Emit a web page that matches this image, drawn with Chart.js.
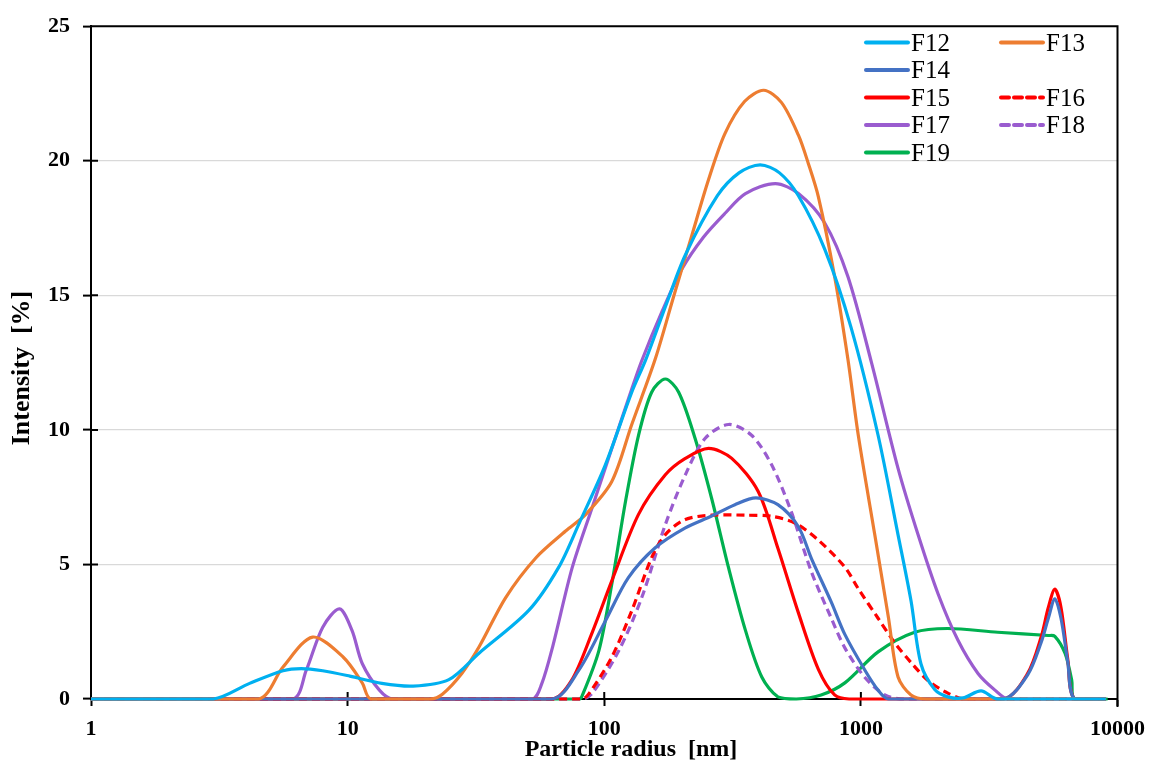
<!DOCTYPE html>
<html><head><meta charset="utf-8">
<script src="https://cdn.jsdelivr.net/npm/chart.js@4/dist/chart.umd.min.js"></script>
<style>html,body{margin:0;padding:0;background:#fff;}#wrap{position:relative;width:1155px;height:760px;}</style>
</head><body><div id="wrap"><canvas id="c" width="1155" height="760"></canvas></div>
<script>
// ---- data (particle radius in nm, intensity in %) ----
const F12_r = [1, 3.0, 4.15, 5.6, 6.6, 8.0, 10.2, 13.6, 18, 24.8, 32.5, 50.9, 66.5, 79.6, 101, 128, 145, 175, 207, 276, 335, 405, 482, 571, 724, 916, 1167, 1396, 1568, 1715, 1940, 2180, 2500, 2940, 3400, 9000];
const F12_y = [0, 0, 0.58, 1.05, 1.13, 1.05, 0.85, 0.58, 0.48, 0.72, 1.7, 3.3, 4.9, 6.5, 8.7, 11.4, 12.6, 14.7, 16.5, 18.7, 19.55, 19.85, 19.55, 18.7, 16.7, 13.8, 9.8, 6.1, 3.65, 1.3, 0.35, 0.08, 0.04, 0.3, 0, 0];

const F13_r = [1, 4.5, 5.6, 7.3, 9.6, 11.4, 12.3, 21, 23.4, 27.9, 32.5, 41.3, 54.2, 70.7, 84.5, 107, 128, 158, 187, 219, 255, 295, 352, 418, 490, 571, 624, 683, 790, 890, 977, 1133, 1280, 1396, 1568, 1800, 9000];
const F13_y = [0, 0, 1.19, 2.3, 1.56, 0.6, 0, 0, 0.18, 0.96, 1.93, 3.77, 5.25, 6.24, 6.85, 8.08, 10.2, 12.63, 15.0, 17.2, 19.3, 21.0, 22.2, 22.62, 22.17, 20.95, 19.9, 18.66, 15.7, 12.63, 9.8, 6.1, 3.04, 0.82, 0.15, 0, 0];

const F14_r = [1, 62.6, 79.6, 101, 124, 158, 207, 261, 323, 390, 475, 571, 643, 767, 866, 1037, 1167, 1280, 3600, 4467, 5040, 5376, 5700, 6023, 6396, 6800, 9000];
const F14_y = [0, 0, 1.07, 2.9, 4.5, 5.62, 6.36, 6.79, 7.22, 7.47, 7.22, 6.4, 5.2, 3.6, 2.4, 1.07, 0.33, 0, 0, 0.9, 2.1, 3.0, 3.72, 3.0, 1.4, 0, 0];

const F15_r = [1, 62.6, 74.7, 89.4, 107, 136, 173, 207, 255, 314, 398, 475, 571, 683, 790, 900, 3600, 4467, 5040, 5376, 5700, 6023, 6396, 6800, 9000];
const F15_y = [0, 0, 0.7, 2.43, 4.39, 6.86, 8.33, 8.94, 9.31, 8.94, 7.71, 5.6, 3.2, 1.1, 0.15, 0, 0, 0.95, 2.3, 3.4, 4.08, 3.4, 1.5, 0, 0];

const F16_r = [1, 82, 87.2, 107, 128, 153, 173, 207, 262, 355, 449, 553, 683, 866, 977, 1167, 1360, 1580, 1820, 2130, 2530, 9000];
const F16_y = [0, 0, 0.2, 1.56, 3.28, 5.25, 6.11, 6.67, 6.83, 6.83, 6.79, 6.54, 5.9, 4.9, 4.1, 3.0, 2.07, 1.32, 0.7, 0.27, 0, 0];

const F17_r = [1, 6.1, 6.9, 8.0, 9.3, 10.4, 11.4, 13.3, 15, 52.4, 57, 62.9, 75, 89.6, 107, 128, 140, 168, 200, 243, 295, 355, 464, 571, 724, 890, 1100, 1396, 1670, 2000, 2390, 2860, 3330, 3750, 9000];
const F17_y = [0, 0, 1.07, 2.67, 3.35, 2.55, 1.32, 0.33, 0, 0, 0.55, 1.93, 4.88, 7.1, 9.31, 11.52, 12.57, 14.4, 15.95, 17.15, 18.04, 18.78, 19.15, 18.78, 17.68, 15.7, 12.5, 8.57, 6.11, 3.9, 2.18, 0.95, 0.33, 0, 0];

const F18_r = [1, 82, 89.6, 114, 140, 173, 207, 247, 305, 375, 449, 535, 643, 767, 866, 1037, 1240, 1460, 9000];
const F18_y = [0, 0, 0.2, 1.8, 3.77, 6.48, 8.33, 9.68, 10.2, 9.8, 8.7, 6.97, 4.7, 3.0, 1.9, 0.8, 0.15, 0, 0];

const F19_r = [1, 79.6, 81.7, 95.3, 107, 121, 136, 153, 173, 195, 226, 262, 305, 355, 411, 475, 560, 700, 866, 1167, 1620, 2180, 3414, 5376, 5700, 6250, 6630, 6800, 9150];
const F19_y = [0, 0, 0.08, 1.8, 4.27, 7.34, 9.8, 11.4, 11.89, 11.4, 9.68, 7.46, 4.88, 2.55, 0.82, 0.08, 0, 0.15, 0.6, 1.75, 2.48, 2.62, 2.48, 2.36, 2.33, 1.69, 0.7, 0, 0];

const seriesLabels = ['F12', 'F13', 'F14', 'F15', 'F16', 'F17', 'F18', 'F19'];
const xTickValues = [1, 10, 100, 1000, 10000];
const yTickValues = [0, 5, 10, 15, 20, 25];
const legendRows = [['F12', 'F13'], ['F14', null], ['F15', 'F16'], ['F17', 'F18'], ['F19', null]];
const xTitle = 'Particle radius  [nm]';
const yTitle = 'Intensity  [%]';

// ---- styles ----
const styles = {
  F12: {color: '#00B0F0', dash: []},
  F13: {color: '#ED7D31', dash: []},
  F14: {color: '#4472C4', dash: []},
  F15: {color: '#FF0000', dash: []},
  F16: {color: '#FF0000', dash: [8, 5]},
  F17: {color: '#9A5CCF', dash: []},
  F18: {color: '#9A5CCF', dash: [8, 5]},
  F19: {color: '#00B050', dash: []}
};
const seriesData = {
  F12: [F12_r, F12_y], F13: [F13_r, F13_y], F14: [F14_r, F14_y], F15: [F15_r, F15_y],
  F16: [F16_r, F16_y], F17: [F17_r, F17_y], F18: [F18_r, F18_y], F19: [F19_r, F19_y]
};

const datasets = seriesLabels.map(name => {
  const [rs, ys] = seriesData[name];
  return {
    label: name,
    data: rs.map((r, i) => ({x: r, y: ys[i]})),
    borderColor: styles[name].color,
    borderDash: styles[name].dash,
    borderWidth: 3.2,
    pointRadius: 0,
    fill: false,
    tension: 0.3,
    clip: 6
  };
});

const FONT = "'Liberation Serif', 'Times New Roman', serif";

const decor = {
  id: 'decor',
  beforeDatasetsDraw(chart) {
    const {ctx, chartArea: a, scales: {x, y}} = chart;
    ctx.save();
    ctx.strokeStyle = '#000';
    ctx.lineWidth = 2;
    ctx.beginPath();
    ctx.moveTo(a.left, a.top); ctx.lineTo(a.right, a.top); ctx.lineTo(a.right, a.bottom + 8);
    y.ticks.forEach(t => { const py = y.getPixelForValue(t.value); ctx.moveTo(a.left, py); ctx.lineTo(a.left + 7, py); });
    x.ticks.forEach(t => { const px = x.getPixelForValue(t.value); ctx.moveTo(px, a.bottom); ctx.lineTo(px, a.bottom - 7); });
    ctx.stroke();
    ctx.restore();
  },
  afterDraw(chart) {
    const {ctx} = chart;
    ctx.save();
    ctx.fillStyle = '#000';
    ctx.textAlign = 'center';
    ctx.textBaseline = 'alphabetic';
    ctx.font = "bold 24px " + FONT;
    ctx.fillText(xTitle, 631, 756);
    ctx.font = "bold 26px " + FONT;
    ctx.translate(29, 368);
    ctx.rotate(-Math.PI / 2);
    ctx.fillText(yTitle, 0, 0);
    ctx.restore();
    // legend
    ctx.save();
    ctx.font = "25px " + FONT;
    ctx.textAlign = 'left';
    ctx.textBaseline = 'alphabetic';
    const colX = [866, 1001];
    const rowY0 = 42.5, rowDy = 27.5;
    legendRows.forEach((row, ri) => {
      row.forEach((name, ci) => {
        if (!name) return;
        const ds = chart.data.datasets.find(d => d.label === name);
        const ly = rowY0 + ri * rowDy;
        const lx = colX[ci];
        ctx.strokeStyle = ds.borderColor;
        ctx.lineWidth = 4;
        ctx.setLineDash(ds.borderDash || []);
        ctx.lineCap = 'round';
        ctx.beginPath(); ctx.moveTo(lx, ly); ctx.lineTo(lx + 42, ly); ctx.stroke();
        ctx.setLineDash([]);
        ctx.fillStyle = '#000';
        ctx.fillText(ds.label, lx + 45, ly + 8.3);
      });
    });
    ctx.restore();
  }
};

new Chart(document.getElementById('c'), {
  type: 'line',
  data: {datasets},
  plugins: [decor],
  options: {
    responsive: false,
    devicePixelRatio: 1,
    animation: false,
    layout: {padding: {top: 22, right: 35, left: 0, bottom: 0}},
    plugins: {legend: {display: false}, tooltip: {enabled: false}},
    scales: {
      x: {
        type: 'logarithmic',
        min: 1, max: 10000,
        afterBuildTicks: s => { s.ticks = xTickValues.map(v => ({value: v, major: true})); },
        afterFit: s => { s.height = 61; },
        ticks: {
          callback: v => String(v),
          color: '#000',
          font: {family: FONT, size: 22, weight: 'bold'},
          padding: 10, maxRotation: 0, autoSkip: false
        },
        grid: {drawOnChartArea: false, tickColor: '#000', tickLength: 7, tickWidth: 2},
        border: {display: true, color: '#000', width: 2}
      },
      y: {
        type: 'linear',
        min: 0, max: 25,
        afterBuildTicks: s => { s.ticks = yTickValues.map(v => ({value: v})); },
        afterFit: s => { s.width = 91; },
        ticks: {
          color: '#000',
          font: {family: FONT, size: 22, weight: 'bold'},
          padding: 13
        },
        grid: {
          color: c => (c.tick && (c.tick.value === 0 || c.tick.value === 25)) ? 'rgba(0,0,0,0)' : '#D9D9D9',
          lineWidth: 1.2,
          tickColor: '#000', tickLength: 8, tickWidth: 2
        },
        border: {display: true, color: '#000', width: 2}
      }
    }
  }
});
</script>
</body></html>
